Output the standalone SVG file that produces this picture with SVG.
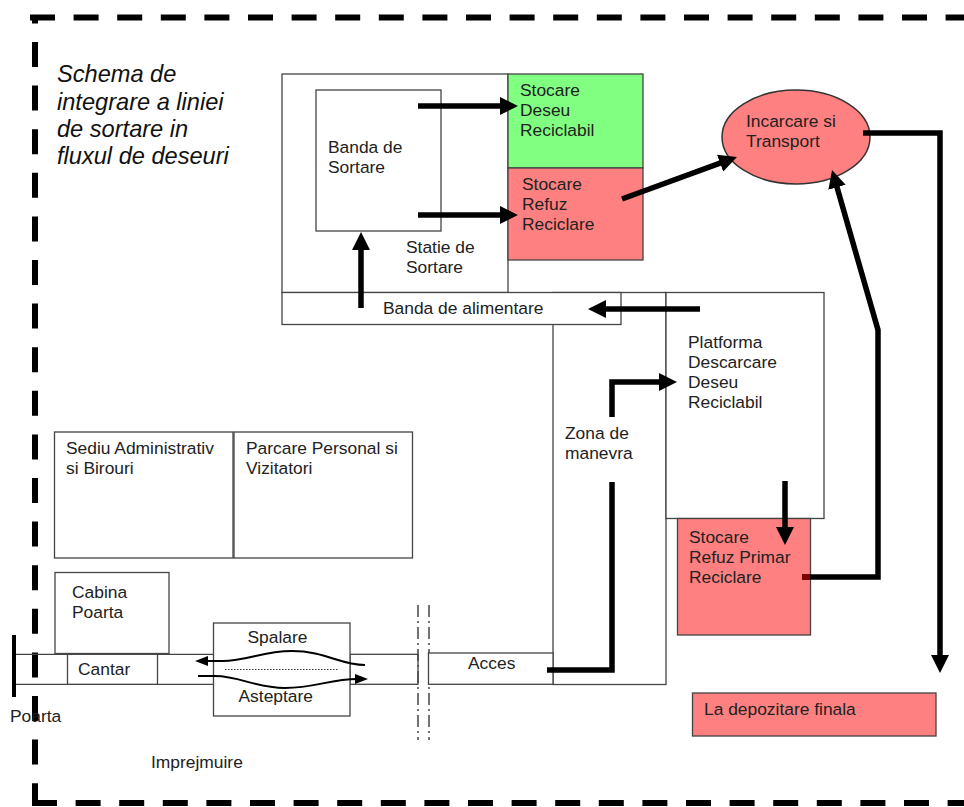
<svg xmlns="http://www.w3.org/2000/svg" width="964" height="807" viewBox="0 0 964 807">
<defs>
<marker id="ah" markerUnits="userSpaceOnUse" markerWidth="18" markerHeight="18" viewBox="0 0 18 18" refX="8" refY="9" orient="auto">
<path d="M0,0 L18,9 L0,18 z" fill="#000"/>
</marker>
<marker id="ahs" markerUnits="userSpaceOnUse" markerWidth="13" markerHeight="10" viewBox="0 0 13 10" refX="3" refY="5" orient="auto">
<path d="M0,0 L13,5 L0,10 z" fill="#000"/>
</marker>
</defs>
<style>
text{font-family:"Liberation Sans",Arial,sans-serif;font-size:17.4px;fill:#222}
.title{font-size:23.6px;font-style:italic;fill:#111}
.box{fill:#fff;stroke:#444;stroke-width:1.3}
.red{fill:#ff8080;stroke:#444;stroke-width:1.3}
.green{fill:#80ff80;stroke:#444;stroke-width:1.3}
.fence{stroke:#000;stroke-width:6;fill:none;stroke-dasharray:25 18.6}
.thin{stroke:#444;stroke-width:1.3;fill:none}
.dd{stroke:#444;stroke-width:1.5;fill:none;stroke-dasharray:12 4 2 4}
.conn{stroke:#000;stroke-width:5.5;fill:none}
.flow{stroke:#000;stroke-width:2;fill:none}
</style>
<rect width="964" height="807" fill="#fff"/>

<g id="fence">
<line class="fence" x1="30" y1="17.5" x2="964" y2="17.5"/>
<line class="fence" x1="35" y1="17" x2="35" y2="803" stroke-dashoffset="18.6"/>
<line class="fence" x1="32" y1="803" x2="964" y2="803"/>
</g>

<g id="title">
<text class="title" x="57" y="82">Schema de</text>
<text class="title" x="57" y="110">integrare a liniei</text>
<text class="title" x="57" y="137">de sortare in</text>
<text class="title" x="57" y="164">fluxul de deseuri</text>
</g>

<g id="zona-manevra">
<rect class="box" x="553" y="292.5" width="113" height="392"/>
<text x="565" y="439">Zona de</text>
<text x="565" y="459">manevra</text>
</g>

<g id="statie-sortare">
<rect class="box" x="282" y="74" width="226" height="218.5"/>
<text x="406" y="253">Statie de</text>
<text x="406" y="273">Sortare</text>
</g>

<g id="banda-sortare">
<rect class="box" x="316" y="90" width="125" height="141"/>
<text x="328" y="153">Banda de</text>
<text x="328" y="173">Sortare</text>
</g>

<g id="stocare-deseu">
<rect class="green" x="508" y="74" width="135" height="94"/>
<text x="520" y="96">Stocare</text>
<text x="520" y="116">Deseu</text>
<text x="520" y="136">Reciclabil</text>
</g>

<g id="stocare-refuz">
<rect class="red" x="508" y="168" width="135" height="92"/>
<text x="522" y="190">Stocare</text>
<text x="522" y="210">Refuz</text>
<text x="522" y="230">Reciclare</text>
</g>

<g id="banda-alimentare">
<rect class="box" x="282" y="292.5" width="339" height="32"/>
<text x="383" y="314">Banda de alimentare</text>
</g>

<g id="platforma">
<rect class="box" x="666" y="292.5" width="158" height="226"/>
<text x="688" y="348">Platforma</text>
<text x="688" y="368">Descarcare</text>
<text x="688" y="388">Deseu</text>
<text x="688" y="408">Reciclabil</text>
</g>

<g id="stocare-refuz-primar">
<rect class="red" x="677.5" y="518.5" width="133" height="116.5"/>
<text x="689" y="543">Stocare</text>
<text x="689" y="563">Refuz Primar</text>
<text x="689" y="583">Reciclare</text>
</g>

<g id="incarcare-transport">
<ellipse cx="796" cy="137" rx="74" ry="47" fill="#ff8080" stroke="#333" stroke-width="1.5"/>
<text x="746" y="127">Incarcare si</text>
<text x="746" y="147">Transport</text>
</g>

<g id="depozitare-finala">
<rect class="red" x="692.5" y="693" width="243.5" height="43"/>
<text x="704" y="715">La depozitare finala</text>
</g>

<g id="sediu">
<rect class="box" x="54.5" y="432" width="178.5" height="126"/>
<text x="66" y="454">Sediu Administrativ</text>
<text x="66" y="474">si Birouri</text>
</g>

<g id="parcare">
<rect class="box" x="234" y="432" width="178.5" height="126"/>
<text x="246" y="454">Parcare Personal si</text>
<text x="246" y="474">Vizitatori</text>
</g>

<g id="cabina-poarta">
<rect class="box" x="55" y="572.5" width="114" height="81"/>
<text x="72" y="598">Cabina</text>
<text x="72" y="618">Poarta</text>
</g>

<g id="drum">
<line class="thin" x1="14" y1="654.3" x2="213" y2="654.3"/>
<line class="thin" x1="14" y1="684.3" x2="213" y2="684.3"/>
<rect class="box" x="350" y="654.3" width="68" height="30"/>
</g>

<g id="cantar">
<rect class="box" x="67.5" y="654.3" width="90" height="30"/>
<text x="78" y="675">Cantar</text>
</g>

<g id="poarta">
<line x1="14" y1="635" x2="14" y2="697" stroke="#000" stroke-width="4"/>
<text x="10" y="722">Poarta</text>
</g>

<g id="spalare-asteptare">
<rect class="box" x="213.5" y="623" width="136.5" height="93"/>
<text x="247.5" y="643">Spalare</text>
<text x="238.5" y="702">Asteptare</text>
<line x1="225" y1="669.5" x2="338" y2="669.5" stroke="#333" stroke-width="1" stroke-dasharray="1.5 1.5"/>
<path class="flow" d="M365,665 C340,665 325,651 292,651 C262,651 248,661 222,661 L205,661" marker-end="url(#ahs)"/>
<path class="flow" d="M198,676 L215,676 C240,676 255,688 285,688 C315,688 330,679 358,679" marker-end="url(#ahs)"/>
</g>

<g id="limita">
<line class="dd" x1="418" y1="605" x2="418" y2="740"/>
<line class="dd" x1="429" y1="605" x2="429" y2="740"/>
</g>

<g id="acces">
<rect class="box" x="428.5" y="653" width="124.5" height="31.3"/>
<text x="468" y="669">Acces</text>
</g>

<text x="151" y="768">Imprejmuire</text>

<g id="connectors">
<line class="conn" x1="418" y1="106" x2="508" y2="106" marker-end="url(#ah)"/>
<line class="conn" x1="418" y1="215" x2="508" y2="215" marker-end="url(#ah)"/>
<line class="conn" x1="361" y1="308" x2="361" y2="242" marker-end="url(#ah)"/>
<line class="conn" x1="700" y1="309" x2="598" y2="309" marker-end="url(#ah)"/>
<polyline class="conn" points="612,417 612,382 667,382" marker-end="url(#ah)"/>
<line class="conn" x1="785" y1="481" x2="785" y2="535" marker-end="url(#ah)"/>
<line class="conn" x1="622" y1="199" x2="727.6" y2="160.4" marker-end="url(#ah)"/>
<polyline class="conn" points="802,577 878,577 878,330 834.8,179.6" marker-end="url(#ah)"/>
<line x1="802" y1="577" x2="810" y2="577" stroke="#800000" stroke-width="5.5"/>
<polyline class="conn" points="863,133 940,133 940,663" marker-end="url(#ah)"/>
<polyline class="conn" points="547,670 612,670 612,482"/>
</g>
</svg>
